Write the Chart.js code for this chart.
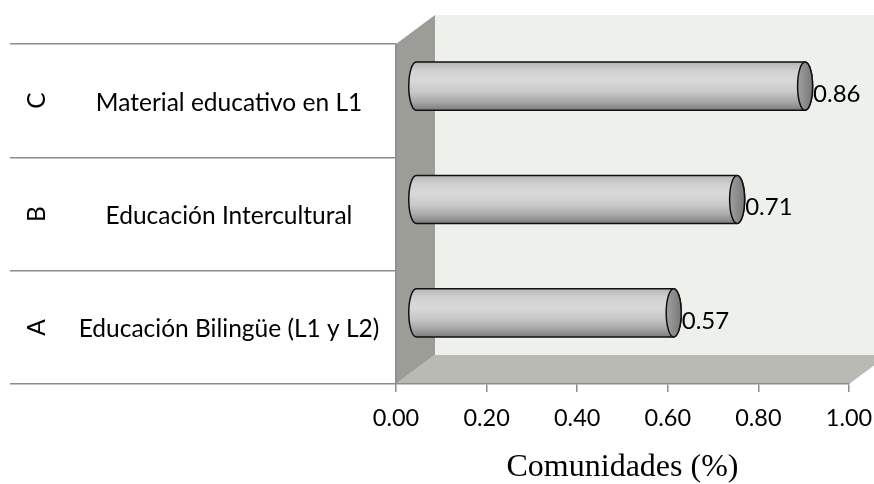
<!DOCTYPE html>
<html>
<head>
<meta charset="utf-8">
<script src="https://cdn.jsdelivr.net/npm/chart.js@4"></script>
<style>
  html, body { margin: 0; padding: 0; background: #ffffff; }
  #wrap { width: 874px; height: 484px; }
</style>
</head>
<body>
<div id="wrap"><canvas id="c" width="874" height="484"></canvas></div>
<script>
// ---- data (top to bottom as displayed) ----
const categoryLetters = ['C', 'B', 'A'];
const categoryNames = ['Material educativo en L1', 'Educación Intercultural', 'Educación Bilingüe (L1 y L2)'];
const values = [0.86, 0.71, 0.57];
const axisTitle = 'Comunidades (%)';

const FONT = 'Lato, "Open Sans", "DejaVu Sans", sans-serif';
const DEPTH = { dx: 39, dy: -29 };   // 3D depth offset of the back wall

const wallsPlugin = {
  id: 'walls',
  beforeDraw(chart) {
    const { ctx, chartArea: a } = chart;
    const { dx, dy } = DEPTH;
    ctx.save();
    // back wall
    ctx.fillStyle = '#eef1eb';
    ctx.fillRect(a.left + dx, a.top + dy, a.right - a.left + 60, a.bottom - a.top);
    // side wall
    ctx.beginPath();
    ctx.moveTo(a.left, a.top);
    ctx.lineTo(a.left + dx, a.top + dy);
    ctx.lineTo(a.left + dx, a.bottom + dy);
    ctx.lineTo(a.left, a.bottom);
    ctx.closePath();
    ctx.fillStyle = '#9b9d96';
    ctx.fill();
    // floor
    ctx.beginPath();
    ctx.moveTo(a.left, a.bottom);
    ctx.lineTo(a.left + dx, a.bottom + dy);
    ctx.lineTo(a.right + dx, a.bottom + dy);
    ctx.lineTo(a.right, a.bottom);
    ctx.closePath();
    ctx.fillStyle = '#b8bab3';
    ctx.fill();
    ctx.restore();
  }
};

function drawCylinder(ctx, x0, x1, yc, h, rx) {
  const top = yc - h, bot = yc + h;
  const g = ctx.createLinearGradient(0, top, 0, bot);
  g.addColorStop(0, '#b6b6b6');
  g.addColorStop(0.18, '#d0d0d0');
  g.addColorStop(0.38, '#d9d9d9');
  g.addColorStop(0.62, '#c8c8c8');
  g.addColorStop(0.84, '#a4a4a4');
  g.addColorStop(1, '#7c7c7c');
  ctx.beginPath();
  ctx.moveTo(x1, top);
  ctx.lineTo(x0, top);
  ctx.ellipse(x0, yc, rx, h, 0, -Math.PI / 2, Math.PI / 2, true);
  ctx.lineTo(x1, bot);
  ctx.ellipse(x1, yc, rx, h, 0, Math.PI / 2, -Math.PI / 2, true);
  ctx.closePath();
  ctx.fillStyle = g;
  ctx.fill();
  ctx.lineWidth = 1.5;
  ctx.strokeStyle = '#111111';
  ctx.stroke();
  // end cap
  const cg = ctx.createLinearGradient(x1 - rx, 0, x1 + rx, 0);
  cg.addColorStop(0, '#a0a0a0');
  cg.addColorStop(1, '#787878');
  ctx.beginPath();
  ctx.ellipse(x1, yc, rx, h, 0, 0, Math.PI * 2);
  ctx.fillStyle = cg;
  ctx.fill();
  ctx.stroke();
}

const cylinderPlugin = {
  id: 'cylinders',
  afterDatasetsDraw(chart) {
    const { ctx } = chart;
    const meta = chart.getDatasetMeta(0);
    const hx = DEPTH.dx / 2, hy = DEPTH.dy / 2;
    ctx.save();
    meta.data.forEach((el, i) => {
      const p = el.getProps(['x', 'y', 'base', 'height'], true);
      const h = p.height / 2;
      drawCylinder(ctx, p.base + hx, p.x + hx, p.y + hy, h, 7.5);
      // value label
      ctx.fillStyle = '#000000';
      ctx.font = '24px ' + FONT;
      ctx.textAlign = 'left';
      ctx.textBaseline = 'middle';
      ctx.fillText(chart.data.datasets[0].data[i].toFixed(2), p.x + hx + 8, p.y + hy + 8);
    });
    ctx.restore();
  }
};

const labelsPlugin = {
  id: 'catLabels',
  afterDraw(chart) {
    const { ctx } = chart;
    const yScale = chart.scales.y;
    ctx.save();
    ctx.fillStyle = '#000000';
    ctx.font = '24.5px ' + FONT;
    ctx.textBaseline = 'middle';
    categoryLetters.forEach((letter, i) => {
      const y = yScale.getPixelForValue(i);
      ctx.save();
      ctx.translate(37, y);
      ctx.rotate(-Math.PI / 2);
      ctx.textAlign = 'center';
      ctx.fillText(letter, 0, 0);
      ctx.restore();
      ctx.textAlign = 'center';
      ctx.fillText(categoryNames[i], 229, y + 2);
    });
    ctx.restore();
  }
};

new Chart(document.getElementById('c'), {
  type: 'bar',
  data: {
    labels: categoryLetters,
    datasets: [{
      data: values,
      backgroundColor: 'rgba(0,0,0,0)',
      borderWidth: 0,
      categoryPercentage: 1,
      barPercentage: 0.425
    }]
  },
  options: {
    indexAxis: 'y',
    responsive: false,
    animation: false,
    devicePixelRatio: 1,
    layout: { padding: { left: 0, right: 25, top: 44, bottom: 0 } },
    plugins: { legend: { display: false }, tooltip: { enabled: false } },
    scales: {
      x: {
        min: 0, max: 1,
        ticks: {
          stepSize: 0.2,
          color: '#000000',
          font: { family: FONT, size: 23.5 },
          padding: 12,
          callback: (v) => Number(v).toFixed(2)
        },
        grid: { drawOnChartArea: false, tickLength: 8, color: '#8c8c8c', lineWidth: 1.5 },
        border: { display: true, color: '#8c8c8c', width: 1.5 },
        title: {
          display: true, text: axisTitle, color: '#000000',
          font: { family: '"Liberation Serif", "Times New Roman", serif', size: 32, lineHeight: 1 },
          padding: { top: 0, bottom: 0 }
        },
        afterFit(scale) { scale.height = 100; scale.paddingLeft = 0; scale.paddingRight = 0; }
      },
      y: {
        offset: true,
        ticks: { display: false },
        grid: { offset: true, drawOnChartArea: false, tickLength: 386, color: '#8c8c8c', lineWidth: 1.5 },
        border: { display: true, color: '#8c8c8c', width: 1.5 },
        afterFit(scale) { scale.width = 396; }
      }
    }
  },
  plugins: [wallsPlugin, cylinderPlugin, labelsPlugin]
});
</script>
</body>
</html>
